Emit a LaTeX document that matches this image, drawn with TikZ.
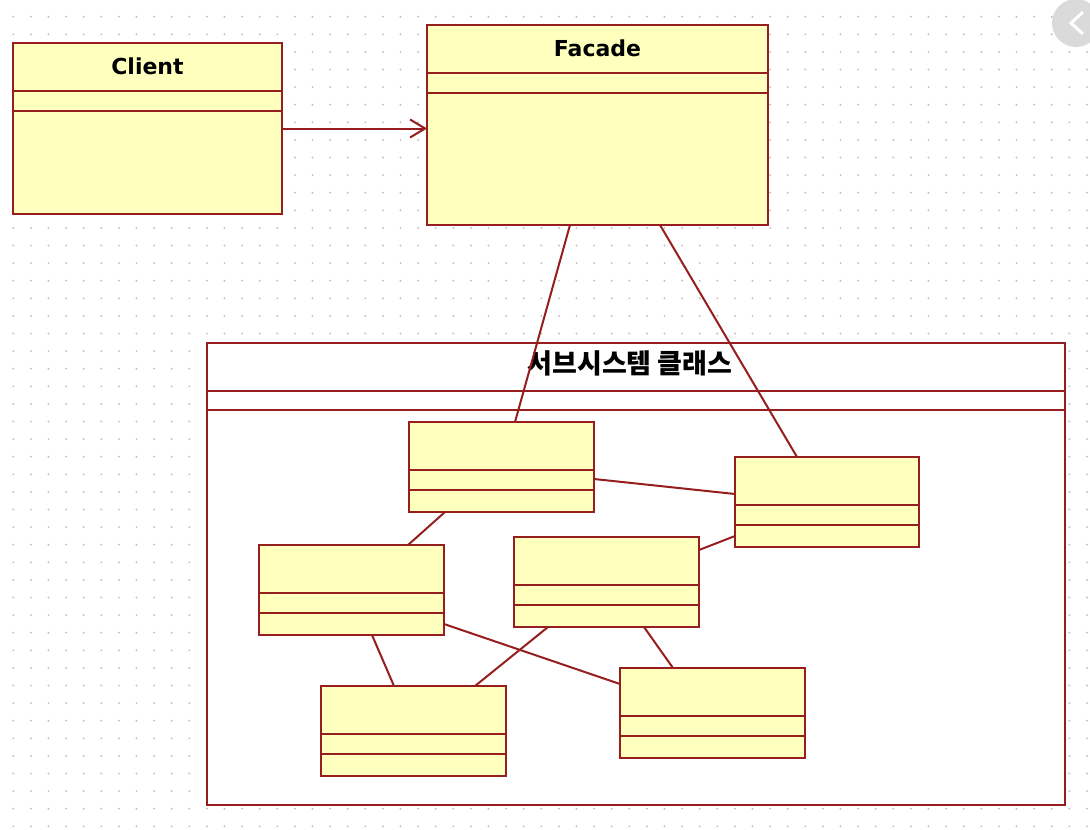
\documentclass[tikz,border=0pt]{standalone}
\usepackage{fontspec}
\setmainfont{DejaVu Sans}
\newfontfamily\krfont{Noto Sans CJK KR}
\usetikzlibrary{arrows.meta,calc}
\definecolor{umlred}{RGB}{150,30,30}
\definecolor{umlfill}{RGB}{255,255,190}
\definecolor{dotc}{RGB}{195,195,195}
\definecolor{btngray}{RGB}{218,218,218}
\tikzset{
  umlcls/.style={draw=umlred, fill=umlfill, line width=2.2pt, inner sep=0pt, outer sep=0pt},
  pkgbox/.style={draw=umlred, fill=white, line width=2.2pt, inner sep=0pt, outer sep=0pt},
  divline/.style={draw=umlred, line width=2.2pt},
  conn/.style={draw=umlred, line width=2pt},
  clstitle/.style={anchor=base, inner sep=0pt, font=\fontsize{22}{26}\selectfont\bfseries},
}
% name, x, y, w, h, style
\newcommand\umlbox[6]{%
  \node[#6, minimum width=#4pt, minimum height=#5pt, anchor=north west] (#1) at (#2,#3) {};
  \draw[divline] ([yshift=-48pt]#1.north west) -- ([yshift=-48pt]#1.north east);
  \draw[divline] ([yshift=-68pt]#1.north west) -- ([yshift=-68pt]#1.north east);
}
\begin{document}
\begin{tikzpicture}[x=1pt,y=-1pt]
\useasboundingbox (0,0) rectangle (1090,830);
\fill[white] (0,0) rectangle (1090,830);
% dotted grid
\foreach \i in {0,...,61}{
  \foreach \j in {-1,...,46}{
    \fill[dotc] (13.3+\i*17.6, 16.7+\j*17.6) circle[radius=1.1pt];
  }
}
% browser back button
\fill[btngray] (1076,23) circle[radius=24pt];
\draw[white, line width=3pt] (1083,12) -- (1071,23) -- (1083,34);

% top classes
\umlbox{cl}{13}{43}{269}{171}{umlcls}
\node[clstitle] at ($(cl.north)+(0,31)$) {Client};
\umlbox{fa}{427}{25}{341}{200}{umlcls}
\node[clstitle] at ($(fa.north)+(0,31)$) {Facade};

% subsystem package
\node[pkgbox, minimum width=858pt, minimum height=462pt, anchor=north west] (pk) at (207,343) {};
\draw[divline] ([yshift=-48pt]pk.north west) -- ([yshift=-48pt]pk.north east);
\draw[divline] ([yshift=-67pt]pk.north west) -- ([yshift=-67pt]pk.north east);
\node[clstitle, font=\fontsize{27}{30}\krfont\bfseries] (pkt) at ($(pk.north)+(-6,30)$) {서브시스템 클래스};

% inner classes
\umlbox{A}{409}{422}{185}{90}{umlcls}
\umlbox{B}{735}{457}{184}{90}{umlcls}
\umlbox{C}{259}{545}{185}{90}{umlcls}
\umlbox{D}{514}{537}{185}{90}{umlcls}
\umlbox{E}{321}{686}{185}{90}{umlcls}
\umlbox{F}{620}{668}{185}{90}{umlcls}

% connectors
\draw[conn, -{Straight Barb[length=15pt,width=18pt,line width=2pt]}] (cl.east) -- (cl.east -| fa.west);
\draw[conn] ([xshift=143pt]fa.south west) -- ([xshift=106pt]A.north west);
\draw[conn] ([xshift=233pt]fa.south west) -- ([xshift=62pt]B.north west);
\draw[conn] ([yshift=-57pt]A.north east) -- ([yshift=-37pt]B.north west);
\draw[conn] ([yshift=-13pt]D.north east) -- ([yshift=-79pt]B.north west);
\draw[conn] ([xshift=36pt]A.south west) -- ([xshift=149pt]C.north west);
\draw[conn] ([yshift=-79pt]C.north east) -- ([yshift=-16pt]F.north west);
\draw[conn] ([xshift=113pt]C.south west) -- ([xshift=73pt]E.north west);
\draw[conn] ([xshift=34pt]D.south west) -- ([xshift=154pt]E.north west);
\draw[conn] ([xshift=130pt]D.south west) -- ([xshift=53pt]F.north west);
\end{tikzpicture}
\end{document}
